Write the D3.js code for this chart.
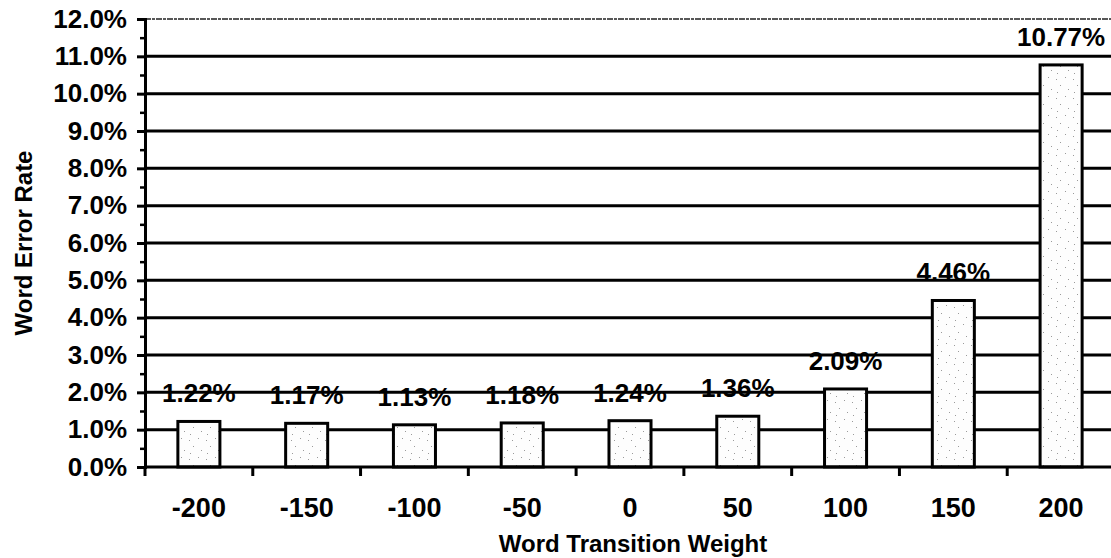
<!DOCTYPE html>
<html>
<head>
<meta charset="utf-8">
<script src="https://cdn.jsdelivr.net/npm/d3@7"></script>
<style>
html,body{margin:0;padding:0;background:#fff;}
svg{display:block;}
text{font-family:"Liberation Sans",Arial,Helvetica,sans-serif;font-weight:bold;fill:#000;}
</style>
</head>
<body>
<svg id="chart" width="1111" height="558"></svg>
<script>
const categories = ["-200","-150","-100","-50","0","50","100","150","200"];
const werValues = [1.22, 1.17, 1.13, 1.18, 1.24, 1.36, 2.09, 4.46, 10.77];
const valueLabels = ["1.22%","1.17%","1.13%","1.18%","1.24%","1.36%","2.09%","4.46%","10.77%"];
const yTicks = [0,1,2,3,4,5,6,7,8,9,10,11,12];
const yMinorTicks = [0.5,1.5,2.5,3.5,4.5,5.5,6.5,7.5,8.5,9.5,10.5,11.5];
const xTitle = "Word Transition Weight";
const yTitle = "Word Error Rate";

(function(){
const svg = d3.select("#chart");
const pLeft = 145, pRight = 1115, pTop = 19, pBottom = 467;

const defs = svg.append("defs");
const pat = defs.append("pattern").attr("id","stip").attr("patternUnits","userSpaceOnUse")
  .attr("width",17).attr("height",19);
pat.append("rect").attr("width",17).attr("height",19).attr("fill","#fdfdfd");
[[2,3],[11,1],[6,9],[14,13],[3,16]].forEach(p=>{
  pat.append("rect").attr("x",p[0]).attr("y",p[1]).attr("width",1).attr("height",1).attr("fill","#9a9a9a");
});

const x = d3.scaleBand().domain(categories).range([pLeft,pRight]).paddingInner(0.61).paddingOuter(0.305);
const y = d3.scaleLinear().domain([0,12]).range([pBottom,pTop]);
const step = x.step();

// gridlines
svg.append("g").selectAll("line").data(yTicks.filter(t=>t>0 && t<12)).join("line")
  .attr("x1",pLeft).attr("x2",1111).attr("y1",d=>y(d)).attr("y2",d=>y(d))
  .attr("stroke","#000").attr("stroke-width",3);
svg.append("line").attr("x1",pLeft).attr("x2",1111).attr("y1",y(12)).attr("y2",y(12))
  .attr("stroke","#222").attr("stroke-width",1.5).attr("stroke-dasharray","6,1,3,1");

// bars
svg.append("g").selectAll("rect").data(werValues).join("rect")
  .attr("x",(d,i)=>x(categories[i])).attr("width",x.bandwidth())
  .attr("y",d=>y(d)).attr("height",d=>y(0)-y(d))
  .attr("fill","url(#stip)").attr("stroke","#000").attr("stroke-width",3);

// y axis
const yAxis = d3.axisLeft(y).tickValues(yTicks).tickFormat(d=>d3.format(".1f")(d)+"%").tickSize(8).tickPadding(10);
const ya = svg.append("g").attr("transform",`translate(${pLeft},0)`).call(yAxis);
ya.select(".domain").attr("stroke","#000").attr("stroke-width",3);
ya.selectAll(".tick line").attr("stroke","#000").attr("stroke-width",3);
ya.selectAll("text").attr("font-size",26).attr("font-family","Liberation Sans, Arial, sans-serif").attr("font-weight","bold");
const yMinor = d3.axisLeft(y).tickValues(yMinorTicks).tickSize(5).tickFormat("");
const ym = svg.append("g").attr("transform",`translate(${pLeft},0)`).call(yMinor);
ym.select(".domain").remove();
ym.selectAll(".tick line").attr("stroke","#000").attr("stroke-width",2.5);

// x axis baseline
svg.append("line").attr("x1",pLeft).attr("x2",1111).attr("y1",y(0)).attr("y2",y(0))
  .attr("stroke","#000").attr("stroke-width",3);
// x ticks between categories
const boundaries = categories.map(c=>x(c)+x.bandwidth()/2-step/2);
svg.append("g").selectAll("line").data(boundaries).join("line")
  .attr("x1",d=>d).attr("x2",d=>d).attr("y1",y(0)).attr("y2",y(0)+9)
  .attr("stroke","#000").attr("stroke-width",3);
// x labels
svg.append("g").selectAll("text").data(categories).join("text")
  .attr("x",d=>x(d)+x.bandwidth()/2).attr("y",517)
  .attr("text-anchor","middle").attr("font-size",27).text(d=>d);

// value labels
svg.append("g").selectAll("text").data(werValues).join("text")
  .attr("x",(d,i)=>x(categories[i])+x.bandwidth()/2).attr("y",d=>y(d)-19)
  .attr("text-anchor","middle").attr("font-size",26).text((d,i)=>valueLabels[i]);

// titles
svg.append("text").attr("x",633).attr("y",552).attr("text-anchor","middle").attr("font-size",24).text(xTitle);
svg.append("text").attr("transform","translate(32,243) rotate(-90)").attr("text-anchor","middle").attr("font-size",24).text(yTitle);
})();
</script>
</body>
</html>
